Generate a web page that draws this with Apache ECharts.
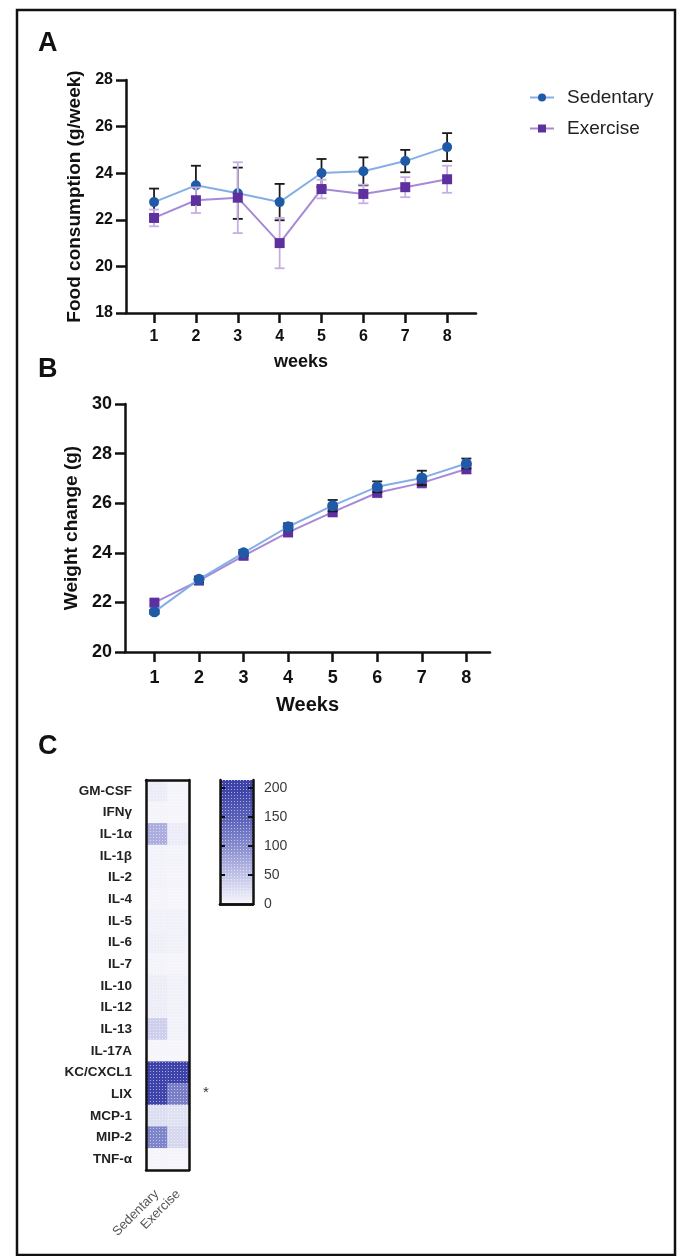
<!DOCTYPE html>
<html>
<head>
<meta charset="utf-8">
<script src="https://cdn.jsdelivr.net/npm/echarts@6/dist/echarts.min.js"></script>
<style>
html,body{margin:0;padding:0;background:#fff;}
#chart{width:677px;height:1256px;}
</style>
</head>
<body>
<div id="chart"></div>
<script>
// ---------- data ----------
const weeks = [1, 2, 3, 4, 5, 6, 7, 8];
const seriesNames = ['Sedentary', 'Exercise'];

// Panel A: food consumption (g/week), mean and error
const foodSedMean = [22.76, 23.48, 23.14, 22.76, 24.01, 24.08, 24.52, 25.12];
const foodSedErr  = [0.58, 0.84, 1.10, 0.78, 0.60, 0.60, 0.48, 0.60];
const foodExMean  = [22.08, 22.84, 22.95, 21.00, 23.32, 23.11, 23.40, 23.74];
const foodExErr   = [0.36, 0.55, 1.52, 1.08, 0.40, 0.40, 0.43, 0.58];
const foodTicks   = [18, 20, 22, 24, 26, 28];

// Panel B: weight change (g)
const weightSedMean = [21.62, 22.93, 24.00, 25.05, 25.90, 26.66, 27.02, 27.60];
const weightSedErr  = [0.08, 0.10, 0.12, 0.14, 0.23, 0.22, 0.29, 0.20];
const weightExMean  = [21.99, 22.88, 23.88, 24.82, 25.64, 26.42, 26.82, 27.38];
const weightExErr   = [0.08, 0.10, 0.12, 0.14, 0.18, 0.18, 0.20, 0.20];
const weightTicks   = [20, 22, 24, 26, 28, 30];

// Panel C: cytokines heatmap
const cytokines = ['GM-CSF', 'IFNγ', 'IL-1α', 'IL-1β', 'IL-2', 'IL-4', 'IL-5', 'IL-6', 'IL-7',
  'IL-10', 'IL-12', 'IL-13', 'IL-17A', 'KC/CXCL1', 'LIX', 'MCP-1', 'MIP-2', 'TNF-α'];
const cytoSed = [12, 2, 75, 4, 4, 2, 6, 8, 3, 10, 10, 45, 1, 205, 198, 28, 112, 2];
const cytoEx  = [2, 1, 12, 3, 2, 1, 6, 6, 2, 6, 6, 6, 1, 200, 118, 24, 35, 2];
const colorbarTicks = [0, 50, 100, 150, 200];
const colorbarTop = [214];

// ---------- styles ----------
const FONT = '"Liberation Sans", Arial, Helvetica, sans-serif';
const C = {
  sedLine: '#86aee6', sedMark: '#1f5aa8', sedErr: '#1a1a1a',
  exLine: '#a68ad8', exMark: '#5e309f', exErr: '#c7aee2',
  heatLow: '#f6f6fb', heatHigh: '#3d43a8'
};
const dots = {
  symbol: 'rect', symbolSize: 1, color: 'rgba(255,255,255,0.55)',
  dashArrayX: [1, 2], dashArrayY: [1, 2], rotation: 0
};

function pts(means) { return weeks.map((w, i) => [w, means[i]]); }
function errData(means, errs) { return weeks.map((w, i) => [w, means[i], errs[i]]); }
function errSeries(xi, yi, means, errs, color, cap, z) {
  return {
    type: 'custom', xAxisIndex: xi, yAxisIndex: yi, z: z, silent: true,
    data: errData(means, errs),
    renderItem: function (params, api) {
      const x = api.value(0), y = api.value(1), e = api.value(2);
      const hi = api.coord([x, y + e]);
      const lo = api.coord([x, y - e]);
      const st = { stroke: color, lineWidth: 1.8 };
      return {
        type: 'group', children: [
          { type: 'line', shape: { x1: hi[0], y1: hi[1], x2: lo[0], y2: lo[1] }, style: st },
          { type: 'line', shape: { x1: hi[0] - cap, y1: hi[1], x2: hi[0] + cap, y2: hi[1] }, style: st },
          { type: 'line', shape: { x1: lo[0] - cap, y1: lo[1], x2: lo[0] + cap, y2: lo[1] }, style: st }
        ]
      };
    }
  };
}
function lineSeries(name, xi, yi, means, lineColor, markColor, symbol, size, z) {
  return {
    name: name, type: 'line', xAxisIndex: xi, yAxisIndex: yi, z: z,
    data: pts(means), symbol: symbol, symbolSize: size, showSymbol: true,
    lineStyle: { color: lineColor, width: 2 },
    itemStyle: { color: markColor, borderWidth: 0 },
    emphasis: { disabled: true }, animation: false
  };
}
function valueX(grid, min, max, fs, margin, name, nameGap, nameSize) {
  return {
    type: 'value', gridIndex: grid, min: min, max: max,
    axisLine: { show: true, onZero: false, lineStyle: { color: '#111', width: 2.5 } },
    axisTick: { show: true, length: 10, customValues: weeks, lineStyle: { color: '#111', width: 2.5 } },
    axisLabel: { customValues: weeks, fontFamily: FONT, fontWeight: 'bold', fontSize: fs, color: '#111', margin: margin },
    splitLine: { show: false },
    name: name, nameLocation: 'middle', nameGap: nameGap,
    nameTextStyle: { fontFamily: FONT, fontWeight: 'bold', fontSize: nameSize, color: '#111' }
  };
}
function valueY(grid, ticks, fs, margin, name, nameGap, nameSize) {
  return {
    type: 'value', gridIndex: grid, min: ticks[0], max: ticks[ticks.length - 1], interval: ticks[1] - ticks[0],
    axisLine: { show: true, lineStyle: { color: '#111', width: 2.5 } },
    axisTick: { show: true, length: 10, lineStyle: { color: '#111', width: 2.5 } },
    axisLabel: { fontFamily: FONT, fontWeight: 'bold', fontSize: fs, color: '#111', margin: margin },
    splitLine: { show: false },
    name: name, nameLocation: 'middle', nameGap: nameGap, nameRotate: 90,
    nameTextStyle: { fontFamily: FONT, fontWeight: 'bold', fontSize: nameSize, color: '#111' }
  };
}

const heatData = [];
cytokines.forEach((c, i) => {
  heatData.push([0, i, cytoSed[i]]);
  heatData.push([1, i, cytoEx[i]]);
});

const chart = echarts.init(document.getElementById('chart'), null, { renderer: 'canvas' });
const option = {
  animation: false,
  backgroundColor: '#fff',
  grid: [
    { left: 126, width: 350, top: 80, height: 233 },
    { left: 125, width: 365, top: 404, height: 248 },
    { left: 146, width: 43, top: 780, height: 390 },
    { left: 220, width: 33, top: 780, height: 124 }
  ],
  legend: {
    data: seriesNames, orient: 'vertical', left: 529, top: 88, padding: 0,
    itemWidth: 24, itemHeight: 10, itemGap: 12,
    selectedMode: false,
    textStyle: { fontFamily: FONT, fontSize: 19, color: '#222', padding: [0, 0, 0, 8] }
  },
  visualMap: {
    show: false, type: 'continuous', min: 0, max: 200, seriesIndex: 8, dimension: 2,
    inRange: { color: [C.heatLow, '#c9cbea', '#8a8fd0', '#5a60b8', C.heatHigh] }
  },
  xAxis: [
    valueX(0, 0.33, 8.69, 16, 16, 'weeks', 40, 18),
    valueX(1, 0.34, 8.53, 18, 17, 'Weeks', 43, 20),
    {
      type: 'category', gridIndex: 2, data: seriesNames, position: 'bottom', z: 10,
      axisLine: { lineStyle: { color: '#111', width: 2.5 } },
      axisTick: { alignWithLabel: true, length: 12, lineStyle: { color: '#111', width: 2.5 } },
      axisLabel: { rotate: 45, fontFamily: FONT, fontSize: 13, color: '#555', margin: 22, interval: 0 }
    },
    { type: 'category', gridIndex: 2, data: seriesNames, position: 'top', z: 10,
      axisLine: { lineStyle: { color: '#111', width: 2.5 } }, axisTick: { show: false }, axisLabel: { show: false } },
    { type: 'category', gridIndex: 3, data: ['scale'], position: 'bottom', z: 10,
      axisLine: { lineStyle: { color: '#111', width: 2.5 } }, axisTick: { show: false }, axisLabel: { show: false } },
    { type: 'category', gridIndex: 3, data: ['scale'], position: 'top', z: 10,
      axisLine: { lineStyle: { color: '#111', width: 2.5 } }, axisTick: { show: false }, axisLabel: { show: false } }
  ],
  yAxis: [
    valueY(0, foodTicks, 16, 13, 'Food consumption (g/week)', 39, 19),
    valueY(1, weightTicks, 18, 13, 'Weight change (g)', 43, 19),
    {
      type: 'category', gridIndex: 2, data: cytokines, inverse: true, position: 'left', z: 10,
      axisLine: { lineStyle: { color: '#111', width: 2.5 } },
      axisTick: { alignWithLabel: true, length: 11, lineStyle: { color: '#111', width: 2.5 } },
      axisLabel: { fontFamily: FONT, fontWeight: 'bold', fontSize: 13.5, color: '#222', margin: 14, interval: 0 }
    },
    { type: 'category', gridIndex: 2, data: cytokines, inverse: true, position: 'right', z: 10,
      axisLine: { lineStyle: { color: '#111', width: 2.5 } }, axisTick: { show: false }, axisLabel: { show: false } },
    { type: 'value', gridIndex: 3, min: 0, max: colorbarTop[0], position: 'left', z: 10,
      axisLine: { show: true, lineStyle: { color: '#111', width: 2.5 } },
      axisTick: { show: true, inside: true, length: 5, customValues: colorbarTicks.slice(1), lineStyle: { color: '#111', width: 2 } },
      axisLabel: { show: false }, splitLine: { show: false } },
    { type: 'value', gridIndex: 3, min: 0, max: colorbarTop[0], position: 'right', z: 10,
      axisLine: { show: true, lineStyle: { color: '#111', width: 2.5 } },
      axisTick: { show: true, inside: true, length: 5, customValues: colorbarTicks.slice(1), lineStyle: { color: '#111', width: 2 } },
      axisLabel: { customValues: colorbarTicks, fontFamily: FONT, fontSize: 14, color: '#3a3a3a', margin: 11 },
      splitLine: { show: false } }
  ],
  series: [
    // Panel A
    errSeries(0, 0, foodSedMean, foodSedErr, C.sedErr, 5, 2),
    lineSeries('Sedentary', 0, 0, foodSedMean, C.sedLine, C.sedMark, 'circle', 10, 3),
    errSeries(0, 0, foodExMean, foodExErr, C.exErr, 5, 4),
    lineSeries('Exercise', 0, 0, foodExMean, C.exLine, C.exMark, 'rect', 10, 5),
    // Panel B
    errSeries(1, 1, weightExMean, weightExErr, C.exErr, 5, 2),
    lineSeries('Exercise', 1, 1, weightExMean, C.exLine, C.exMark, 'rect', 10, 3),
    errSeries(1, 1, weightSedMean, weightSedErr, C.sedErr, 5, 4),
    lineSeries('Sedentary', 1, 1, weightSedMean, C.sedLine, C.sedMark, 'circle', 11, 5),
    // Panel C heatmap (index 8)
    { type: 'heatmap', xAxisIndex: 2, yAxisIndex: 2, data: heatData, silent: true,
      itemStyle: { decal: dots }, emphasis: { disabled: true } },
    // colour scale bar
    { type: 'bar', xAxisIndex: 4, yAxisIndex: 4, data: colorbarTop, barWidth: '100%', silent: true,
      itemStyle: { decal: dots, color: new echarts.graphic.LinearGradient(0, 0, 0, 1, [
        { offset: 0, color: C.heatHigh },
        { offset: 0.07, color: C.heatHigh },
        { offset: 0.3, color: '#5a60b8' },
        { offset: 0.55, color: '#8a8fd0' },
        { offset: 0.8, color: '#c9cbea' },
        { offset: 1, color: C.heatLow }
      ]) } }
  ],
  graphic: [
    { type: 'rect', z: 100, silent: true, shape: { x: 17, y: 10, width: 658, height: 1245 },
      style: { fill: 'none', stroke: '#111', lineWidth: 2.5 } },
    { type: 'text', left: 38, top: 30, style: { text: 'A', font: 'bold 27px ' + FONT, fill: '#111' } },
    { type: 'text', left: 38, top: 356, style: { text: 'B', font: 'bold 27px ' + FONT, fill: '#111' } },
    { type: 'text', left: 38, top: 733, style: { text: 'C', font: 'bold 27px ' + FONT, fill: '#111' } },
    { type: 'text', left: 203, top: 1085, style: { text: '*', font: '15px ' + FONT, fill: '#333' } }
  ]
};
chart.setOption(option);
</script>
</body>
</html>
